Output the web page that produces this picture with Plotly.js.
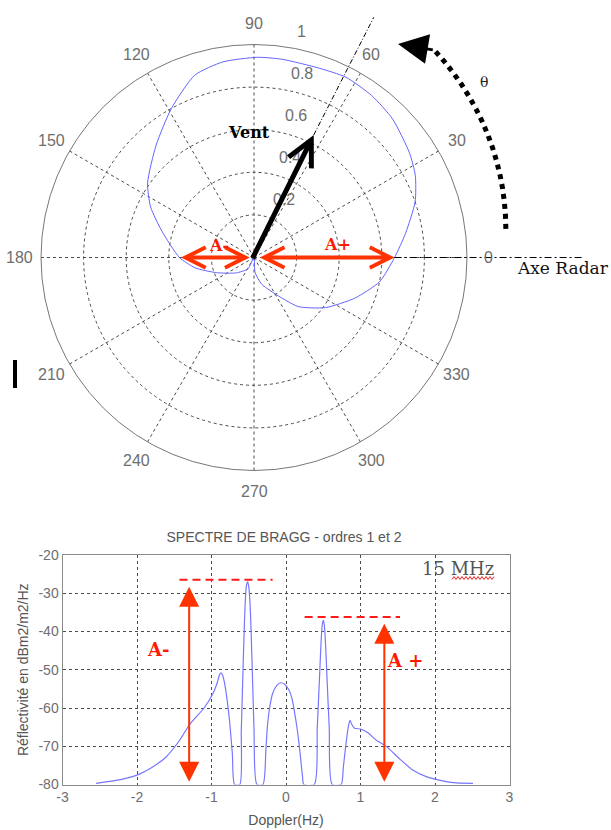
<!DOCTYPE html>
<html>
<head>
<meta charset="utf-8">
<script src="https://cdn.plot.ly/plotly-3.0.1.min.js"></script>
<style>
html,body{margin:0;padding:0;background:#ffffff;}
#chart{width:611px;height:830px;}
</style>
</head>
<body>
<div id="chart"></div>
<script>
// ---------- Polar diagram: directional pattern ----------
const polarTheta = [0, 9, 19, 27, 34, 45, 54, 63, 71, 82, 89, 99, 108, 119, 131, 145, 154, 164, 180, 190, 202, 221, 242, 245, 274, 286, 299, 312, 325, 338, 349, 360];
const polarR     = [0.66, 0.72, 0.80, 0.85, 0.88, 0.92, 0.94, 0.95, 0.94, 0.94, 0.94, 0.93, 0.90, 0.80, 0.70, 0.61, 0.54, 0.45, 0.35, 0.28, 0.19, 0.11, 0.06, 0.0, 0.07, 0.13, 0.19, 0.31, 0.41, 0.51, 0.60, 0.66];
const radialTicks = [0.2, 0.4, 0.6, 0.8, 1];
const radialTickText = ['0.2', '0.4', '0.6', '0.8', '1'];
const angularTicks = [0, 30, 60, 90, 120, 150, 180, 210, 240, 270, 300, 330];
const angularTickText = ['0', '30', '60', '90', '120', '150', '180', '210', '240', '270', '300', '330'];
const windDirection = 64;     // degrees
const windArrowLength = 0.64; // radial units

// ---------- Bragg spectrum ----------
const dopplerHz = [-2.55, -2.3, -2.01, -1.79, -1.61, -1.43, -1.29, -1.10, -0.98, -0.93, -0.89, -0.87, -0.85, -0.83, -0.80, -0.76, -0.72, -0.69, -0.62, -0.60, -0.58, -0.56, -0.545, -0.53, -0.515, -0.50, -0.485, -0.47, -0.45, -0.43, -0.39, -0.31, -0.27, -0.25, -0.22, -0.18, -0.12, -0.07, -0.02, 0.04, 0.08, 0.11, 0.15, 0.18, 0.22, 0.24, 0.38, 0.42, 0.45, 0.47, 0.485, 0.50, 0.515, 0.53, 0.55, 0.58, 0.62, 0.74, 0.77, 0.80, 0.84, 0.86, 0.88, 0.92, 1.0, 1.1, 1.21, 1.35, 1.52, 1.70, 1.89, 2.07, 2.29, 2.51];
const reflectivity = [-79.7, -79.0, -77.6, -75.4, -72.8, -68.5, -64.2, -60.0, -56.2, -53.8, -51.2, -50.8, -51.5, -53.0, -56.5, -63.0, -72.0, -80, -80, -66, -52, -39, -31.5, -27.8, -27.0, -28.2, -32, -39, -52, -65, -80, -80, -71, -64.9, -60.0, -56.2, -54.0, -53.4, -53.8, -55.3, -57.5, -60.6, -65.5, -70.2, -77.5, -80, -80, -65, -52, -43, -38.5, -37.0, -38.5, -43, -52, -65, -80, -80, -75.4, -70.2, -64.5, -63.2, -64.2, -65.3, -65.5, -66.5, -68.4, -70.1, -73.2, -76.2, -78.0, -78.9, -79.6, -79.7];
const xTicks = [-3, -2, -1, 0, 1, 2, 3];
const yTicks = [-80, -70, -60, -50, -40, -30, -20];

// ---------- geometry (pixels) ----------
const W = 611, H = 830;
const CX = 254, CY = 257.5, R = 213;            // polar centre and radius
const PL = 62.5, PR = 509.5, PT = 555, PB = 784.5; // spectrum plot frame
const D = Math.PI / 180;
const px = v => v / W, py = v => 1 - v / H;

const red = '#ff3300';
const serif = 'DejaVu Serif';
const sans = 'Liberation Sans';

// values used by decorations, taken from the data
const rAt0 = polarR[polarTheta.indexOf(0)];
const rAt180 = polarR[polarTheta.indexOf(180)];
let maxNeg = -Infinity, maxPos = -Infinity;
dopplerHz.forEach((f, i) => {
  if (f < 0) maxNeg = Math.max(maxNeg, reflectivity[i]);
  else maxPos = Math.max(maxPos, reflectivity[i]);
});

const traces = [
  {
    type: 'scatterpolar', theta: polarTheta, r: polarR, mode: 'lines',
    line: {color: '#6464ff', width: 1, shape: 'spline', smoothing: 0.6}, hoverinfo: 'skip', showlegend: false
  },
  {
    type: 'scatter', x: dopplerHz, y: reflectivity, mode: 'lines',
    xaxis: 'x', yaxis: 'y', cliponaxis: true,
    line: {color: '#7676ff', width: 1.2, shape: 'spline', smoothing: 0.7}, hoverinfo: 'skip', showlegend: false
  }
];

const ann = [];
// angular tick labels
angularTicks.forEach((t, i) => ann.push({
  xref: 'x2', yref: 'y2', x: 1.1 * Math.cos(t * D), y: 1.1 * Math.sin(t * D),
  text: angularTickText[i], showarrow: false, xanchor: 'center', yanchor: 'middle',
  font: {family: sans, size: 16, color: '#6e6e6e'}
}));
// radial tick labels
radialTicks.forEach((r, i) => ann.push({
  xref: 'x2', yref: 'y2', x: r * Math.cos(82 * D), y: r * Math.sin(82 * D),
  text: radialTickText[i], showarrow: false, xanchor: 'left', yanchor: 'bottom',
  xshift: 11, yshift: 5, font: {family: sans, size: 16, color: '#6e6e6e'}
}));
// wind arrow
ann.push({
  xref: 'x2', yref: 'y2', axref: 'x2', ayref: 'y2',
  x: windArrowLength * Math.cos(windDirection * D), y: windArrowLength * Math.sin(windDirection * D),
  ax: -0.01, ay: -0.01, text: '', showarrow: true, arrowhead: 5, arrowsize: 1, arrowwidth: 5,
  arrowcolor: '#000000', standoff: 0
});
ann.push({xref: 'x2', yref: 'y2', x: -0.023, y: 0.585, text: '<b>Vent</b>', showarrow: false,
  xanchor: 'center', yanchor: 'middle', font: {family: serif, size: 16, color: '#000000'}});
// A+ / A- arrows on the polar diagram
ann.push({
  xref: 'x2', yref: 'y2', axref: 'x2', ayref: 'y2', x: rAt0, y: 0, ax: 0.02, ay: 0,
  text: '', showarrow: true, arrowside: 'end+start', arrowhead: 5, startarrowhead: 5,
  arrowsize: 1, startarrowsize: 1, arrowwidth: 4, arrowcolor: red, standoff: 0, startstandoff: 0
});
ann.push({
  xref: 'x2', yref: 'y2', axref: 'x2', ayref: 'y2', x: -0.02, y: 0, ax: -rAt180, ay: 0,
  text: '', showarrow: true, arrowside: 'end+start', arrowhead: 5, startarrowhead: 5,
  arrowsize: 1, startarrowsize: 1, arrowwidth: 4, arrowcolor: red, standoff: 0, startstandoff: 0
});
ann.push({xref: 'x2', yref: 'y2', x: 0.39, y: 0.062, text: '<b>A+</b>', showarrow: false,
  xanchor: 'center', yanchor: 'middle', font: {family: serif, size: 16, color: '#ff1a00'}});
ann.push({xref: 'x2', yref: 'y2', x: -0.165, y: 0.058, text: '<b>A-</b>', showarrow: false,
  xanchor: 'center', yanchor: 'middle', font: {family: serif, size: 16, color: '#ff1a00'}});
// radar axis and theta
ann.push({xref: 'x2', yref: 'y2', x: 1.226, y: -0.05, text: 'Axe Radar', showarrow: false,
  xanchor: 'left', yanchor: 'middle', font: {family: serif, size: 17, color: '#111111'}});
ann.push({xref: 'x2', yref: 'y2', x: 1.08, y: 0.824, text: 'θ', showarrow: false,
  xanchor: 'center', yanchor: 'middle', font: {family: serif, size: 14, color: '#222222'}});

// theta arc (decoration)
const arcA0 = 6.5, arcA1 = 49, arcR0 = 1.19, arcR1 = 1.29, nArc = 14;
const arcPts = [];
for (let k = 0; k <= nArc; k++) {
  const f = k / nArc, a = (arcA0 + (arcA1 - arcA0) * f) * D, rr = arcR0 + (arcR1 - arcR0) * f;
  arcPts.push([rr * Math.cos(a), rr * Math.sin(a)]);
}
const arcPath = arcPts.map((p, k) => (k ? 'L' : 'M') + p[0].toFixed(4) + ',' + p[1].toFixed(4)).join(' ');
const arcEnd = arcPts[arcPts.length - 1];
ann.push({
  xref: 'x2', yref: 'y2', axref: 'x2', ayref: 'y2', x: (398 - CX) / R, y: (CY - 44) / R,
  ax: arcEnd[0], ay: arcEnd[1], text: '', showarrow: true, arrowhead: 2, arrowsize: 2,
  arrowwidth: 3, arrowcolor: '#000000', standoff: 0
});

// ---------- spectrum annotations ----------
const arrowXneg = -1.30, arrowXpos = 1.32;
ann.push({
  xref: 'x', yref: 'y', axref: 'x', ayref: 'y', x: arrowXneg, y: maxNeg - 1.3, ax: arrowXneg, ay: -79.7,
  text: '', showarrow: true, arrowside: 'end+start', arrowhead: 2, startarrowhead: 2,
  arrowsize: 2, startarrowsize: 2, arrowwidth: 2, arrowcolor: red, standoff: 0, startstandoff: 0
});
ann.push({
  xref: 'x', yref: 'y', axref: 'x', ayref: 'y', x: arrowXpos, y: maxPos - 1.0, ax: arrowXpos, ay: -79.7,
  text: '', showarrow: true, arrowside: 'end+start', arrowhead: 2, startarrowhead: 2,
  arrowsize: 2, startarrowsize: 2, arrowwidth: 2, arrowcolor: red, standoff: 0, startstandoff: 0
});
ann.push({xref: 'x', yref: 'y', x: -1.72, y: -44.6, text: '<b>A-</b>', showarrow: false,
  xanchor: 'center', yanchor: 'middle', font: {family: serif, size: 18, color: '#ff1a00'}});
ann.push({xref: 'x', yref: 'y', x: 1.60, y: -47.5, text: '<b>A +</b>', showarrow: false,
  xanchor: 'center', yanchor: 'middle', font: {family: serif, size: 18, color: '#ff1a00'}});
ann.push({xref: 'paper', yref: 'paper', x: px(458), y: py(568), text: '15 MHz', showarrow: false,
  xanchor: 'center', yanchor: 'middle', font: {family: serif, size: 18, color: '#555555'}});

// ---------- shapes ----------
const shapes = [];
// wind direction dash-dot line
shapes.push({type: 'line', xref: 'x2', yref: 'y2',
  x0: windArrowLength * Math.cos(windDirection * D), y0: windArrowLength * Math.sin(windDirection * D),
  x1: 1.26 * Math.cos(63.5 * D), y1: 1.26 * Math.sin(63.5 * D),
  line: {color: '#000000', width: 1, dash: '5px,2px,1px,2px'}});
// radar axis
shapes.push({type: 'line', xref: 'x2', yref: 'y2', x0: rAt0, y0: 0, x1: 1.55, y1: 0,
  line: {color: '#000000', width: 1, dash: '7px,3px,2px,3px'}});
// theta arc
shapes.push({type: 'path', xref: 'x2', yref: 'y2', path: arcPath,
  line: {color: '#000000', width: 5, dash: 'dot'}});
// dashed peak levels
shapes.push({type: 'line', xref: 'x', yref: 'y', x0: -1.43, x1: -0.18, y0: maxNeg + 0.5, y1: maxNeg + 0.5,
  line: {color: '#ff1a1a', width: 2, dash: '8px,5px'}});
shapes.push({type: 'line', xref: 'x', yref: 'y', x0: 0.25, x1: 1.53, y0: maxPos + 0.8, y1: maxPos + 0.8,
  line: {color: '#ff1a1a', width: 2, dash: '8px,5px'}});
// small black bar at left
shapes.push({type: 'rect', xref: 'paper', yref: 'paper', x0: px(13), x1: px(17), y0: py(388), y1: py(360),
  fillcolor: '#000000', line: {width: 0}});
// red wavy underline under "MHz"
let sq = '';
for (let xx = 452, k = 0; xx <= 494; xx += 2, k++) {
  sq += (k ? ' L' : 'M') + px(xx).toFixed(5) + ',' + py(k % 2 ? 576.5 : 579.5).toFixed(5);
}
shapes.push({type: 'path', xref: 'paper', yref: 'paper', path: sq, line: {color: '#ee2222', width: 1}});

const layout = {
  width: W, height: H,
  margin: {l: 0, r: 0, t: 0, b: 0, pad: 0},
  paper_bgcolor: '#ffffff', plot_bgcolor: 'rgba(0,0,0,0)',
  showlegend: false,
  title: {
    text: 'SPECTRE DE BRAGG - ordres 1 et 2', x: px(284), xanchor: 'center',
    y: py(537), yanchor: 'middle', font: {family: sans, size: 14, color: '#555555'}
  },
  polar: {
    domain: {x: [px(CX - R), px(CX + R)], y: [py(CY + R), py(CY - R)]},
    bgcolor: 'rgba(0,0,0,0)',
    radialaxis: {
      range: [0, 1], tickvals: radialTicks.slice(0, 4), showticklabels: false, ticks: '',
      showline: false, showgrid: true, gridcolor: '#4a4a4a', griddash: '3px,3px', gridwidth: 1
    },
    angularaxis: {
      rotation: 0, direction: 'counterclockwise', tickvals: angularTicks, showticklabels: false,
      ticks: '', showline: true, linecolor: '#777777', linewidth: 1,
      showgrid: true, gridcolor: '#4a4a4a', griddash: '3px,3px', gridwidth: 1
    }
  },
  xaxis2: {domain: [0, 1], range: [-CX / R, (W - CX) / R], anchor: 'y2', visible: false, fixedrange: true},
  yaxis2: {domain: [py(500), 1], range: [(CY - 500) / R, CY / R], anchor: 'x2', visible: false, fixedrange: true},
  xaxis: {
    domain: [px(PL), px(PR)], anchor: 'y', range: [-3, 3], tickvals: xTicks,
    ticktext: xTicks.map(String), automargin: false, layer: 'below traces',
    showline: true, mirror: true, linecolor: '#8a8a8a', linewidth: 1, zeroline: false, ticks: '',
    showgrid: true, gridcolor: '#4a4a4a', griddash: '3px,3px', gridwidth: 1,
    tickfont: {family: sans, size: 14, color: '#6e6e6e'},
    title: {text: 'Doppler(Hz)', standoff: 10, font: {family: sans, size: 14, color: '#555555'}}
  },
  yaxis: {
    domain: [py(PB), py(PT)], anchor: 'x', range: [-80, -20], tickvals: yTicks,
    ticktext: yTicks.map(String), automargin: false,
    showline: true, mirror: true, linecolor: '#8a8a8a', linewidth: 1, zeroline: false, ticks: '',
    showgrid: true, gridcolor: '#4a4a4a', griddash: '3px,3px', gridwidth: 1,
    tickfont: {family: sans, size: 14, color: '#6e6e6e'},
    title: {text: 'Réflectivité en dBm2/m2/Hz', standoff: 6, font: {family: sans, size: 14, color: '#555555'}}
  },
  annotations: ann,
  shapes: shapes
};

Plotly.newPlot('chart', traces, layout, {staticPlot: true, displayModeBar: false});
</script>
</body>
</html>
